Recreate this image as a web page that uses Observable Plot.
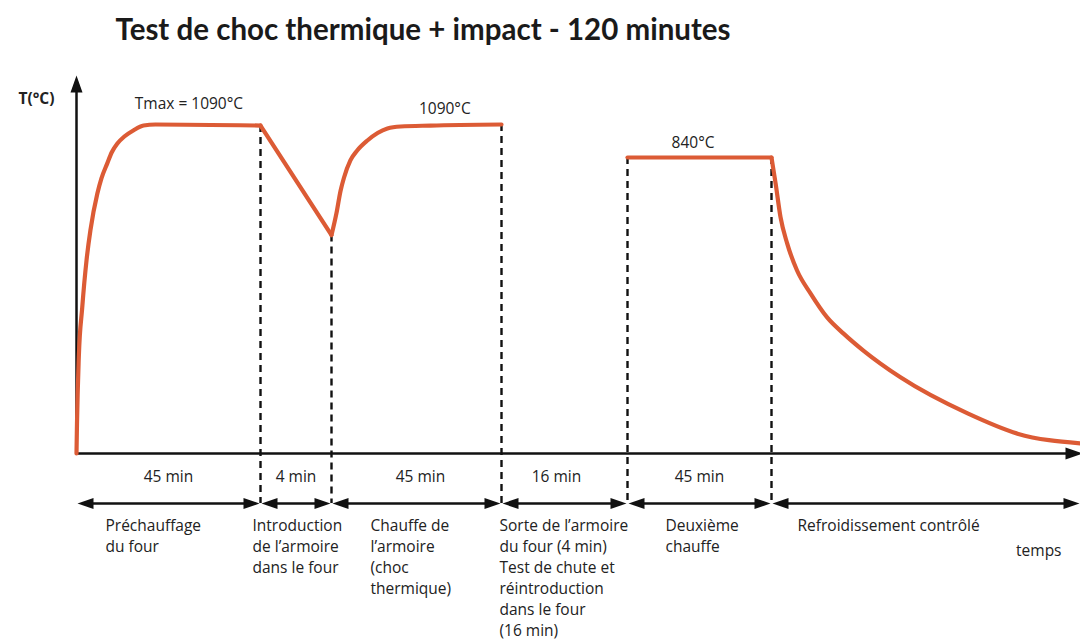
<!DOCTYPE html>
<html><head><meta charset="utf-8">
<script src="https://cdn.jsdelivr.net/npm/d3@7"></script>
<script src="https://cdn.jsdelivr.net/npm/@observablehq/plot@0.6"></script>
<style>body{margin:0;background:#fff;} #chart svg{display:block;}</style>
</head><body><div id="chart"></div>
<script>
// ---------- data ----------
const title = "Test de choc thermique + impact - 120 minutes";
const yLabel = "T(°C)";
const xLabel = "temps";

// phases (schematic time axis, minutes)
const phaseStart = [0, 45, 49, 94, 110, 155];
const phaseEnd = [45, 49, 94, 110, 155, 230];
const phaseDuration = ["45 min", "4 min", "45 min", "16 min", "45 min", ""];
const phaseName = [
  "Préchauffage\ndu four",
  "Introduction\nde l’armoire\ndans le four",
  "Chauffe de\nl’armoire\n(choc\nthermique)",
  "Sorte de l’armoire\ndu four (4 min)\nTest de chute et\nréintroduction\ndans le four\n(16 min)",
  "Deuxième\nchauffe",
  "Refroidissement contrôlé"
];

// temperature curve pieces (min, °C)
const preheatTime = [0, 0.12, 0.56, 1.4, 2.45, 3.4, 5.1, 6.1, 7.5, 8.6, 10, 11.7, 13.9, 16.4, 19.3, 45];
const preheatTemp = [20, 103, 286, 424, 555, 638, 740, 782, 823, 878, 946, 999, 1045, 1082, 1090, 1082];
const introTime = [45, 49];
const introTemp = [1082, 625];
const reheatTime = [49, 50.3, 51.4, 52.3, 54, 55.8, 58.5, 61.2, 63.8, 67.3, 75.2, 94];
const reheatTemp = [625, 685, 748, 784, 832, 893, 969, 1026, 1060, 1075, 1082, 1090];
const secondTime = [110, 155];
const secondTemp = [840, 840];
const coolTime = [155, 156, 157.2, 158.8, 161.2, 164.5, 168.5, 172.5, 177.3, 186.3, 202.6, 214.7, 230];
const coolTemp = [840, 768, 674, 602, 527, 463, 397, 352, 305, 231, 131, 75, 48];

// phase boundaries (dashed lines) and their top temperature
const boundTime = [45, 49, 94, 110, 155];
const boundTemp = [1082, 625, 1090, 840, 840];

// annotations
const annText = ["Tmax = 1090°C", "1090°C", "840°C"];
const annTime = [27.5, 79, 130.5];
const annTemp = [1090, 1090, 840];

// ---------- build tables ----------
const pieces = [
  ["preheat", preheatTime, preheatTemp],
  ["intro", introTime, introTemp],
  ["reheat", reheatTime, reheatTemp],
  ["second", secondTime, secondTemp],
  ["cool", coolTime, coolTemp]
];
const curve = pieces.flatMap(([k, ts, vs]) => ts.map((t, i) => ({piece: k, t, T: vs[i]})));
const phases = phaseStart.map((s, i) => ({start: s, end: phaseEnd[i], mid: (s + phaseEnd[i]) / 2, dur: phaseDuration[i], name: phaseName[i]}));
const bounds = boundTime.map((t, i) => ({t, top: boundTemp[i]}));
const BASE = 20;

const ORANGE = "#dc5b35";
const INK = "#111";
const TXT = "#222";
const FONT = "Open Sans";
const FS = 15.5;

const arrowHead = {draw(ctx) { ctx.moveTo(0, 0); ctx.lineTo(-16, -5.5); ctx.lineTo(-16, 5.5); ctx.closePath(); }};
const axisHead = {draw(ctx) { ctx.moveTo(0, 0); ctx.lineTo(-17, -6); ctx.lineTo(-17, 6); ctx.closePath(); }};

const descDx = [29, -8, 39, -2, 38, 26];
const durDx = [0, 0, 4, -8, 0, 0];
const annDy = [-20, -15, -14];

const plot = Plot.plot({
  width: 1080,
  height: 643,
  marginTop: 75,
  marginBottom: 190,
  marginLeft: 76,
  marginRight: 0,
  style: {fontFamily: FONT, background: "#fff"},
  x: {type: "linear", domain: [...phaseStart, phaseEnd[phaseEnd.length - 1]], range: [76, 260, 331, 501, 627, 771, 1080], axis: null},
  y: {type: "linear", domain: [BASE, 840, 1090], range: [453, 157, 124], axis: null},
  marks: [
    // title
    Plot.text([title], {frameAnchor: "top-left", textAnchor: "start", lineAnchor: "middle", dx: 39, dy: -45, fontFamily: "Lato", fontWeight: "bold", fontSize: 29.5, fill: "#1a1a1a"}),
    // dashed phase boundaries
    Plot.ruleX(bounds, {x: "t", y1: "top", y2: () => BASE, stroke: INK, strokeWidth: 2.4, strokeDasharray: "7,5", insetBottom: -50}),
    // axes
    Plot.ruleX([0], {x: d => d, stroke: INK, strokeWidth: 2.5, insetTop: 6}),
    Plot.ruleY([BASE], {y: d => d, stroke: INK, strokeWidth: 2.5, insetRight: 6}),
    Plot.dot([0], {x: d => d, frameAnchor: "top", symbol: axisHead, rotate: -90, fill: INK, stroke: "none"}),
    Plot.dot([BASE], {y: d => d, frameAnchor: "right", symbol: axisHead, rotate: 0, dx: 2, fill: INK, stroke: "none"}),
    Plot.text([yLabel], {frameAnchor: "top-left", textAnchor: "middle", lineAnchor: "middle", dx: -40, dy: 24, fontWeight: "bold", fontSize: 15.5, fill: TXT}),
    Plot.text([xLabel], {x: () => phaseEnd[phaseEnd.length - 1], y: () => BASE, textAnchor: "end", lineAnchor: "middle", dx: -19, dy: 98, fontSize: FS, fill: TXT}),
    // temperature curve
    Plot.line(curve, {x: "t", y: "T", z: "piece", curve: "monotone-x", stroke: ORANGE, strokeWidth: 4.2, strokeLinecap: "round", strokeLinejoin: "round"}),
    // annotations
    ...annText.map((s, i) => Plot.text([s], {x: () => annTime[i], y: () => annTemp[i], dy: annDy[i], textAnchor: "middle", lineAnchor: "middle", fontSize: FS, fill: TXT})),
    // phase arrows
    Plot.ruleY(phases, {x1: "start", x2: "end", y: () => BASE, dy: 50, insetLeft: 6, insetRight: 6, stroke: INK, strokeWidth: 2.5}),
    Plot.dot(phases, {x: "start", y: () => BASE, dy: 50, dx: 1, symbol: arrowHead, rotate: 180, fill: INK, stroke: "none"}),
    Plot.dot(phases, {x: "end", y: () => BASE, dy: 50, dx: -1, symbol: arrowHead, rotate: 0, fill: INK, stroke: "none"}),
    // durations
    ...phases.map((p, i) => Plot.text([p], {x: "mid", y: () => BASE, text: "dur", dx: durDx[i], dy: 24, textAnchor: "middle", lineAnchor: "middle", fontSize: FS, fill: TXT})),
    // phase descriptions
    ...phases.map((p, i) => Plot.text([p], {x: "start", y: () => BASE, text: "name", dx: descDx[i], dy: 63, textAnchor: "start", lineAnchor: "top", lineHeight: 1.355, fontSize: FS, fill: TXT}))
  ]
});
document.getElementById("chart").appendChild(plot);
</script>
</body></html>
